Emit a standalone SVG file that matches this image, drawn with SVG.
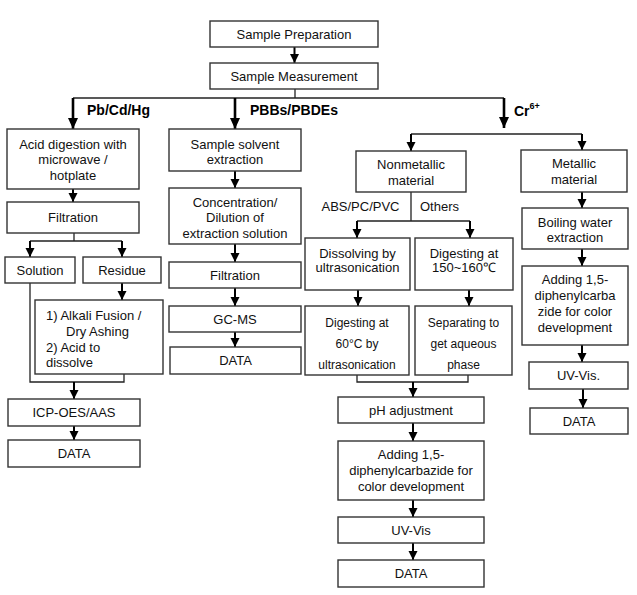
<svg xmlns="http://www.w3.org/2000/svg" width="637" height="595" viewBox="0 0 637 595">
<style>
.box{fill:#fff;stroke:#333;stroke-width:1.4}
.t{font-family:"Liberation Sans",Arial,sans-serif;font-size:13px;fill:#111;text-anchor:middle}
.tl{font-family:"Liberation Sans",Arial,sans-serif;font-size:13px;fill:#111}
.b{font-family:"Liberation Sans",Arial,sans-serif;font-size:14px;font-weight:bold;fill:#000}
.ln{fill:none;stroke:#222;stroke-width:1.3}
.ar{fill:none;stroke:#000;stroke-width:2;marker-end:url(#ah)}
.arm{fill:none;stroke:#000;stroke-width:2.6;marker-end:url(#ahm)}
</style>
<defs>
<marker id="ah" markerUnits="userSpaceOnUse" markerWidth="10" markerHeight="10" refX="9" refY="5" orient="auto" viewBox="0 0 10 10"><path d="M0,0.5 L9,5 L0,9.5 z" fill="#000"/></marker>
<marker id="ahm" markerUnits="userSpaceOnUse" markerWidth="12" markerHeight="11" refX="11" refY="5.5" orient="auto" viewBox="0 0 12 11"><path d="M0,0.5 L11,5.5 L0,10.5 z" fill="#000"/></marker>
</defs>
<rect width="637" height="595" fill="#fff"/>
<g id="connectors">
<path class="ar" d="M294.5,47 V63"/>
<path class="ln" d="M295,89 V98"/>
<path class="ln" d="M73,98 H504" style="stroke-width:1.6"/>
<path class="arm" d="M73,98 V129"/>
<path class="arm" d="M235,98 V129"/>
<path class="arm" d="M504,98 V128"/>
<path class="ln" d="M411,134 H582"/>
<path class="ar" d="M411,134 V151"/>
<path class="ar" d="M582,134 V150"/>
<path class="ar" d="M73,189 V202"/>
<path class="ln" d="M74,233 V241 M30,241 H122"/>
<path class="ar" d="M30,241 V257"/>
<path class="ar" d="M122,241 V257"/>
<path class="ar" d="M122,283 V300"/>
<path class="ln" d="M30,283 V382 H124 V374"/>
<path class="ar" d="M74,382 V399"/>
<path class="ar" d="M74,426 V440"/>
<path class="ar" d="M235,171 V188"/>
<path class="ar" d="M235,244 V262"/>
<path class="ar" d="M235,288 V306"/>
<path class="ar" d="M235,332 V347"/>
<path class="ln" d="M411,192 V221 M357,221 H470"/>
<path class="ar" d="M357,221 V238"/>
<path class="ar" d="M470,221 V238"/>
<path class="ar" d="M358,290 V306"/>
<path class="ar" d="M469,290 V306"/>
<path class="ln" d="M357,375 V382 H468 V375"/>
<path class="ar" d="M413,382 V397"/>
<path class="ar" d="M413,423 V441"/>
<path class="ar" d="M413,500 V517"/>
<path class="ar" d="M413,543 V560"/>
<path class="ar" d="M582,192 V208"/>
<path class="ar" d="M582,249 V266"/>
<path class="ar" d="M582,345 V362"/>
<path class="ar" d="M583,389 V408"/>
</g>
<g id="labels">
<text class="b" x="87" y="115">Pb/Cd/Hg</text>
<text class="b" x="250" y="115">PBBs/PBDEs</text>
<text class="b" x="514" y="116">Cr<tspan font-size="9" dy="-7">6+</tspan></text>
<text class="t" x="360.5" y="210.5">ABS/PC/PVC</text>
<text class="t" x="439.5" y="210.5">Others</text>
</g>
<g id="n-prep"><rect class="box" x="210" y="21" width="168" height="26"/><text class="t" x="294" y="38.5">Sample Preparation</text></g>
<g id="n-meas"><rect class="box" x="210" y="63" width="168" height="26"/><text class="t" x="294" y="80.5">Sample Measurement</text></g>
<g id="n-acid"><rect class="box" x="7" y="129" width="132" height="60"/><text class="t" x="73" y="148.5">Acid digestion with</text><text class="t" x="73" y="164">microwave /</text><text class="t" x="73" y="179.5">hotplate</text></g>
<g id="n-filt1"><rect class="box" x="7" y="202" width="132" height="31"/><text class="t" x="73" y="222">Filtration</text></g>
<g id="n-solution"><rect class="box" x="5" y="257" width="70" height="26"/><text class="t" x="40" y="274.5">Solution</text></g>
<g id="n-residue"><rect class="box" x="83" y="257" width="78" height="26"/><text class="t" x="122" y="274.5">Residue</text></g>
<g id="n-alkali"><rect class="box" x="35" y="300" width="128" height="74"/><text class="tl" x="46" y="319.5">1) Alkali Fusion /</text><text class="tl" x="66" y="335.5">Dry Ashing</text><text class="tl" x="46" y="351.5">2) Acid to</text><text class="tl" x="46" y="367">dissolve</text></g>
<g id="n-icp"><rect class="box" x="8" y="399" width="132" height="27"/><text class="t" x="74" y="417">ICP-OES/AAS</text></g>
<g id="n-data1"><rect class="box" x="8" y="440" width="132" height="27"/><text class="t" x="74" y="458">DATA</text></g>
<g id="n-solvent"><rect class="box" x="169" y="129" width="132" height="42"/><text class="t" x="235" y="148.5">Sample solvent</text><text class="t" x="235" y="164">extraction</text></g>
<g id="n-conc"><rect class="box" x="169" y="188" width="132" height="56"/><text class="t" x="235" y="206.5">Concentration/</text><text class="t" x="235" y="222">Dilution of</text><text class="t" x="235" y="237.5">extraction solution</text></g>
<g id="n-filt2"><rect class="box" x="169" y="262" width="132" height="26"/><text class="t" x="235" y="279.5">Filtration</text></g>
<g id="n-gcms"><rect class="box" x="169" y="306" width="132" height="26"/><text class="t" x="235" y="323.5">GC-MS</text></g>
<g id="n-data2"><rect class="box" x="170" y="347" width="131" height="27"/><text class="t" x="235.5" y="365">DATA</text></g>
<g id="n-nonmetal"><rect class="box" x="356" y="151" width="110" height="41"/><text class="t" x="411" y="168.5">Nonmetallic</text><text class="t" x="411" y="184.5">material</text></g>
<g id="n-metal"><rect class="box" x="521" y="150" width="106" height="42"/><text class="t" x="574" y="167.5">Metallic</text><text class="t" x="574" y="183.5">material</text></g>
<g id="n-dissolve"><rect class="box" x="305" y="238" width="105" height="52"/><text class="t" x="357.5" y="257.5">Dissolving by</text><text class="t" x="357.5" y="271.5">ultrasonication</text></g>
<g id="n-dig150"><rect class="box" x="415" y="238" width="98" height="52"/><text class="t" x="464" y="257.5">Digesting at</text><text class="t" x="464" y="271.5">150~160℃</text></g>
<g id="n-dig60"><rect class="box" x="305" y="306" width="104" height="69"/><text class="t" x="357" y="326.5" style="font-size:12px">Digesting at</text><text class="t" x="357" y="347.5" style="font-size:12px">60°C by</text><text class="t" x="357" y="368.5" style="font-size:12px">ultrasonication</text></g>
<g id="n-separate"><rect class="box" x="415" y="306" width="97" height="69"/><text class="t" x="463.5" y="326.5" style="font-size:12px">Separating to</text><text class="t" x="463.5" y="347.5" style="font-size:12px">get aqueous</text><text class="t" x="463.5" y="368.5" style="font-size:12px">phase</text></g>
<g id="n-ph"><rect class="box" x="338" y="397" width="146" height="26"/><text class="t" x="411" y="414.5">pH adjustment</text></g>
<g id="n-adding1"><rect class="box" x="338" y="441" width="146" height="59"/><text class="t" x="411" y="458.5">Adding 1,5-</text><text class="t" x="411" y="474.5">diphenylcarbazide for</text><text class="t" x="411" y="490.5">color development</text></g>
<g id="n-uv1"><rect class="box" x="338" y="517" width="146" height="26"/><text class="t" x="411" y="534.5">UV-Vis</text></g>
<g id="n-data3"><rect class="box" x="338" y="560" width="146" height="27"/><text class="t" x="411" y="578">DATA</text></g>
<g id="n-boil"><rect class="box" x="522" y="208" width="106" height="41"/><text class="t" x="575" y="226.5">Boiling water</text><text class="t" x="575" y="241.5">extraction</text></g>
<g id="n-adding2"><rect class="box" x="522" y="266" width="106" height="79"/><text class="t" x="575" y="284">Adding 1,5-</text><text class="t" x="575" y="300">diphenylcarba</text><text class="t" x="575" y="315.5">zide for color</text><text class="t" x="575" y="331.5">development</text></g>
<g id="n-uv2"><rect class="box" x="529" y="362" width="99" height="27"/><text class="t" x="578.5" y="380">UV-Vis.</text></g>
<g id="n-data4"><rect class="box" x="530" y="408" width="98" height="26"/><text class="t" x="579" y="425.5">DATA</text></g>
</svg>
